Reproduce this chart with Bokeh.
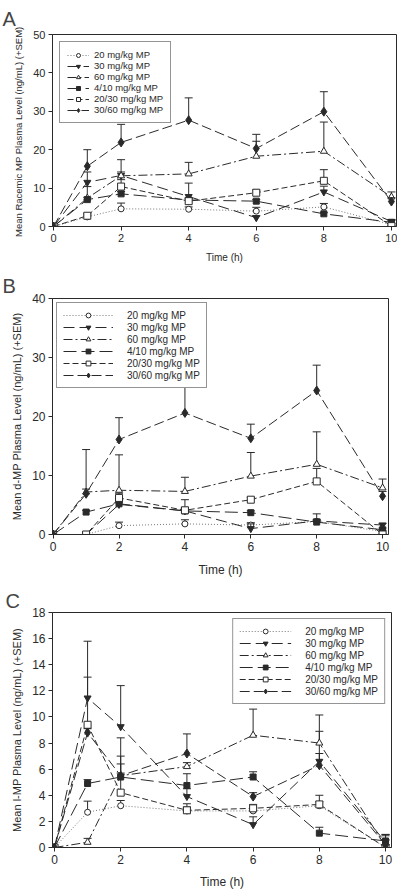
from bokeh.plotting import figure
from bokeh.layouts import column
from bokeh.models import FixedTicker, Range1d
from bokeh.embed import file_html
from bokeh.resources import INLINE

time_h = [0, 1, 2, 4, 6, 8, 10]
series_labels = ["20 mg/kg MP", "30 mg/kg MP", "60 mg/kg MP",
                 "4/10 mg/kg MP", "20/30 mg/kg MP", "30/60 mg/kg MP"]

# Panel A: racemic MP (mean, SEM)
a_20 = [0, 2.5, 4.6, 4.5, 4.0, 5.1, 0.5]
a_20_sem = [0, 0.5, 1.5, 0.6, 1.0, 0.9, 0.3]
a_30 = [0, 11.5, 13.3, 7.8, 2.3, 9.0, 1.3]
a_30_sem = [0, 2.7, 4.1, 3.5, 0.5, 1.5, 0.5]
a_60 = [0, 7.4, 13.2, 13.7, 18.3, 19.6, 7.7]
a_60_sem = [0, 3.0, 1.0, 3.0, 3.9, 7.6, 1.3]
a_410 = [0, 7.0, 8.5, 6.9, 6.6, 3.3, 1.1]
a_410_sem = [0, 0.6, 0.6, 0.5, 0.4, 0.3, 0.5]
a_2030 = [0, 2.8, 10.4, 6.6, 8.8, 11.9, 0.1]
a_2030_sem = [0, 0.6, 1.8, 0.6, 0.7, 2.9, 0.2]
a_3060 = [0, 15.7, 21.9, 27.7, 20.3, 29.9, 6.5]
a_3060_sem = [0, 4.3, 4.7, 5.8, 3.7, 5.2, 1.0]

# Panel B: d-MP
b_20 = [0, 0, 1.5, 1.8, 1.6, 2.2, 0.5]
b_20_sem = [0, 0, 0.6, 0.7, 0.4, 0.3, 0.2]
b_30 = [0, 0, 5.1, 4.0, 1.0, 2.3, 1.6]
b_30_sem = [0, 0, 0.5, 1.9, 0.8, 1.2, 0.3]
b_60 = [0, 7.2, 7.5, 7.3, 9.9, 11.9, 7.9]
b_60_sem = [0, 0.5, 6.0, 2.4, 4.0, 5.5, 1.5]
b_410 = [0, 3.8, 5.2, 4.0, 3.7, 2.1, 0.8]
b_410_sem = [0, 0.3, 0.5, 0.4, 0.3, 0.3, 0.3]
b_2030 = [0, 0, 6.2, 4.1, 5.9, 9.0, 0]
b_2030_sem = [0, 0, 0.8, 0.5, 0.4, 2.2, 0.2]
b_3060 = [0, 6.9, 16.1, 20.6, 16.3, 24.4, 6.5]
b_3060_sem = [0, 7.5, 3.7, 4.7, 2.4, 4.3, 0.8]

# Panel C: l-MP
c_20 = [0, 2.7, 3.2, 2.8, 2.8, 3.2, 0.0]
c_20_sem = [0, 0.85, 0.4, 0.3, 0.3, 0.3, 0.2]
c_30 = [0, 11.45, 9.25, 3.9, 1.75, 6.6, 0.4]
c_30_sem = [0, 4.35, 3.15, 0.6, 0.6, 2.3, 0.5]
c_60 = [0, 0.4, 5.5, 6.2, 8.6, 8.0, 0.1]
c_60_sem = [0, 0.3, 0.9, 0.3, 2.0, 2.15, 0.5]
c_410 = [0, 4.9, 5.4, 4.75, 5.4, 1.1, 0.5]
c_410_sem = [0, 0.3, 0.3, 0.9, 0.4, 0.45, 0.5]
c_2030 = [0, 9.4, 4.2, 2.85, 3.0, 3.3, 0.0]
c_2030_sem = [0, 3.65, 2.8, 0.5, 0.3, 0.7, 0.2]
c_3060 = [0, 8.8, 5.5, 7.2, 3.9, 6.3, 0.2]
c_3060_sem = [0, 0.3, 2.9, 1.5, 0.3, 0.9, 0.8]

FONT = "Liberation Sans"
INK = "#2a2a2a"

styles = [
    dict(dash="1 2", color="#777777", marker="circle", fill="white", size=6),
    dict(dash="11 5", color=INK, marker="inverted_triangle", fill=INK, size=7),
    dict(dash="9 3 2 3", color=INK, marker="triangle", fill="white", size=7),
    dict(dash="13 5", color=INK, marker="square", fill=INK, size=6),
    dict(dash="6 3", color=INK, marker="square", fill="white", size=7),
    dict(dash="10 4", color=INK, marker="diamond", fill=INK, size=9),
]


def make_panel(letter, ylabel, means, sems, ymax, ystep, xr, frame_w, frame_h,
               borders, legend_loc, legend_cfg, fonts):
    left, right, top, bottom = borders
    p = figure(frame_width=frame_w, frame_height=frame_h,
               x_range=Range1d(*xr), y_range=Range1d(0, ymax),
               output_backend="svg", toolbar_location=None,
               min_border_left=left, min_border_right=right,
               min_border_top=top, min_border_bottom=bottom)
    p.title.text = letter
    p.title.text_font = FONT
    p.title.text_font_size = "20px"
    p.title.text_font_style = "normal"
    p.title.align = "left"
    p.title.offset = -(left - 2)
    p.title.standoff = fonts["title_standoff"]
    p.grid.visible = False
    p.outline_line_color = INK
    p.outline_line_alpha = 1
    p.xaxis.ticker = FixedTicker(ticks=[0, 2, 4, 6, 8, 10])
    p.yaxis.ticker = FixedTicker(ticks=list(range(0, ymax + 1, ystep)))
    p.axis.minor_tick_line_color = None
    p.axis.major_tick_in = 0
    p.axis.major_tick_out = 4
    p.axis.axis_line_color = INK
    p.axis.major_tick_line_color = INK
    p.axis.major_label_text_font = FONT
    p.axis.major_label_text_font_size = fonts["tick"]
    p.axis.major_label_text_color = INK
    p.axis.major_label_standoff = 3
    p.axis.axis_label_text_font = FONT
    p.axis.axis_label_text_font_style = "normal"
    p.axis.axis_label_text_color = INK
    p.xaxis.axis_label = "Time (h)"
    p.xaxis.axis_label_text_font_size = fonts["xlabel"]
    p.xaxis.axis_label_standoff = fonts["xlabel_standoff"]
    p.yaxis.axis_label = ylabel
    p.yaxis.axis_label_text_font_size = fonts["ylabel"]
    p.yaxis.axis_label_standoff = 6

    for lab, st, m, s in zip(series_labels, styles, means, sems):
        xs = [t for t, e in zip(time_h, s) if e > 0]
        y0 = [v for v, e in zip(m, s) if e > 0]
        y1 = [v + e for v, e in zip(m, s) if e > 0]
        p.segment(x0=xs, y0=y0, x1=xs, y1=y1, line_color=INK, line_width=1)
        p.scatter(x=xs, y=y1, marker="dash", size=8, line_color=INK, line_width=1)
        p.line(time_h, m, line_color=st["color"], line_dash=st["dash"],
               line_width=1, legend_label=lab)
        p.scatter(time_h, m, marker=st["marker"], size=st["size"],
                  fill_color=st["fill"], line_color=INK, line_width=1,
                  legend_label=lab)

    lg = p.legend[0]
    lg.location = legend_loc
    lg.margin = legend_cfg["margin"]
    lg.padding = legend_cfg["padding"]
    lg.spacing = 0
    lg.glyph_width = legend_cfg["glyph_w"]
    lg.glyph_height = legend_cfg["row"]
    lg.label_height = legend_cfg["row"]
    lg.label_standoff = legend_cfg["standoff"]
    lg.label_text_font = FONT
    lg.label_text_font_size = legend_cfg["font"]
    lg.label_text_color = INK
    lg.border_line_color = INK
    lg.border_line_width = 1
    lg.background_fill_alpha = 1
    return p


pa = make_panel("A", "Mean Racemic  MP Plasma Level (ng/mL) (+SEM)",
                [a_20, a_30, a_60, a_410, a_2030, a_3060],
                [a_20_sem, a_30_sem, a_60_sem, a_410_sem, a_2030_sem, a_3060_sem],
                50, 10, (-0.03, 10.15), 344, 192, (52, 1, 28, 44), "top_left",
                dict(margin=7, padding=7, glyph_w=22, row=10, standoff=5, font="9.5px"),
                dict(tick="11px", xlabel="10px", ylabel="9.5px", xlabel_standoff=7,
                     title_standoff=10))

pb = make_panel("B", "Mean d-MP Plasma Level (ng/mL) (+SEM)",
                [b_20, b_30, b_60, b_410, b_2030, b_3060],
                [b_20_sem, b_30_sem, b_60_sem, b_410_sem, b_2030_sem, b_3060_sem],
                40, 10, (-0.02, 10.18), 336, 236, (52, 9, 25, 52), "top_left",
                dict(margin=4, padding=6, glyph_w=50, row=12, standoff=14, font="10px"),
                dict(tick="12px", xlabel="12px", ylabel="11px", xlabel_standoff=9,
                     title_standoff=4))

pc = make_panel("C", "Mean l-MP Plasma Level (ng/mL) (+SEM)",
                [c_20, c_30, c_60, c_410, c_2030, c_3060],
                [c_20_sem, c_30_sem, c_60_sem, c_410_sem, c_2030_sem, c_3060_sem],
                18, 2, (-0.06, 10.18), 339, 235, (49, 9, 22, 43), "top_right",
                dict(margin=6, padding=6, glyph_w=52, row=12, standoff=14, font="10px"),
                dict(tick="12px", xlabel="12px", ylabel="11px", xlabel_standoff=8,
                     title_standoff=2))

layout = column(pa, pb, pc, spacing=0)
open("out.html", "w").write(file_html(layout, INLINE))
